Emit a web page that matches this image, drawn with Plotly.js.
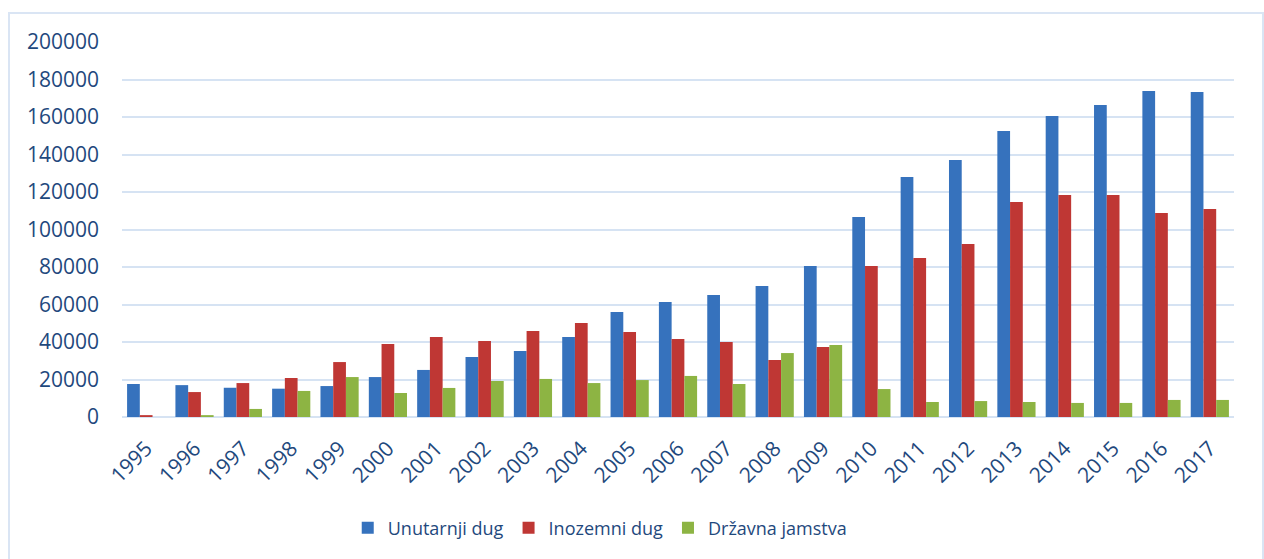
<!DOCTYPE html>
<html>
<head>
<meta charset="utf-8">
<script src="https://cdn.plot.ly/plotly-3.0.1.min.js"></script>
<style>
  html, body { margin: 0; padding: 0; background: #ffffff; overflow: hidden; }
  #frame { position: absolute; left: 8px; top: 12px; width: 1252px; height: 560px;
           border: 2px solid #dae5f4; border-bottom: none; }
  #chart { width: 1252px; height: 545px; }
</style>
</head>
<body>
<div id="frame"><div id="chart"></div></div>
<script>
const years = ['1995','1996','1997','1998','1999','2000','2001','2002','2003','2004','2005','2006',
               '2007','2008','2009','2010','2011','2012','2013','2014','2015','2016','2017'];
const unutarnjiDug = [17600, 17000, 15600, 15100, 16500, 21300, 25100, 32000, 35200, 42700, 56000, 61300,
                      65100, 69900, 80500, 106700, 128000, 137100, 152500, 160500, 166400, 173900, 173300];
const inozemniDug  = [1000, 13300, 18100, 20800, 29300, 38900, 42700, 40500, 45900, 50100, 45300, 41600,
                      40000, 30400, 37300, 80500, 84800, 92300, 114700, 118400, 118400, 108800, 110900];
const drzavnaJamstva = [0, 1000, 4300, 13900, 21300, 12800, 15500, 19200, 20300, 18100, 19700, 21900,
                        17600, 34100, 38400, 14900, 8000, 8500, 8000, 7500, 7500, 9100, 9100];
const seriesNames = ['Unutarnji dug', 'Inozemni dug', 'Državna jamstva'];
const seriesColors = ['#3672bd', '#bf3734', '#8db443'];
const yTicks = [0, 20000, 40000, 60000, 80000, 100000, 120000, 140000, 160000, 180000, 200000];

const textColor = '#1f497d';
const font = { family: '"Open Sans", "Noto Sans", sans-serif', color: textColor };
const seriesValues = [unutarnjiDug, inozemniDug, drzavnaJamstva];

const traces = seriesValues.map((vals, i) => ({
  type: 'bar',
  name: seriesNames[i],
  x: years,
  y: vals,
  marker: { color: seriesColors[i], line: { width: 0 } },
  hoverinfo: 'x+y+name'
}));

const layout = {
  width: 1252,
  height: 545,
  margin: { l: 112, r: 28, t: 28, b: 142 },
  paper_bgcolor: '#ffffff',
  plot_bgcolor: '#ffffff',
  barmode: 'group',
  bargap: 0.21,
  bargroupgap: 0,
  font: Object.assign({ size: 21 }, font),
  xaxis: {
    type: 'category',
    tickangle: -45,
    tickfont: Object.assign({ size: 21 }, font),
    showgrid: false,
    showline: false,
    ticks: '',
    zeroline: false,
    ticklabelstandoff: 14
  },
  yaxis: {
    range: [0, 200000],
    tickvals: yTicks,
    ticktext: yTicks.map(String),
    tickfont: Object.assign({ size: 21 }, font),
    showgrid: true,
    gridcolor: '#d6e3f3',
    gridwidth: 2,
    zeroline: true,
    zerolinecolor: '#d6e3f3',
    zerolinewidth: 2,
    showline: false,
    ticks: '',
    ticklabelstandoff: 22
  },
  showlegend: true,
  legend: {
    orientation: 'h',
    x: 0.203,
    xanchor: 'left',
    y: -0.296,
    yanchor: 'middle',
    font: Object.assign({ size: 18 }, font),
    bgcolor: 'rgba(0,0,0,0)',
    traceorder: 'normal'
  }
};

Plotly.newPlot('chart', traces, layout, { displayModeBar: false, staticPlot: true });
</script>
</body>
</html>
